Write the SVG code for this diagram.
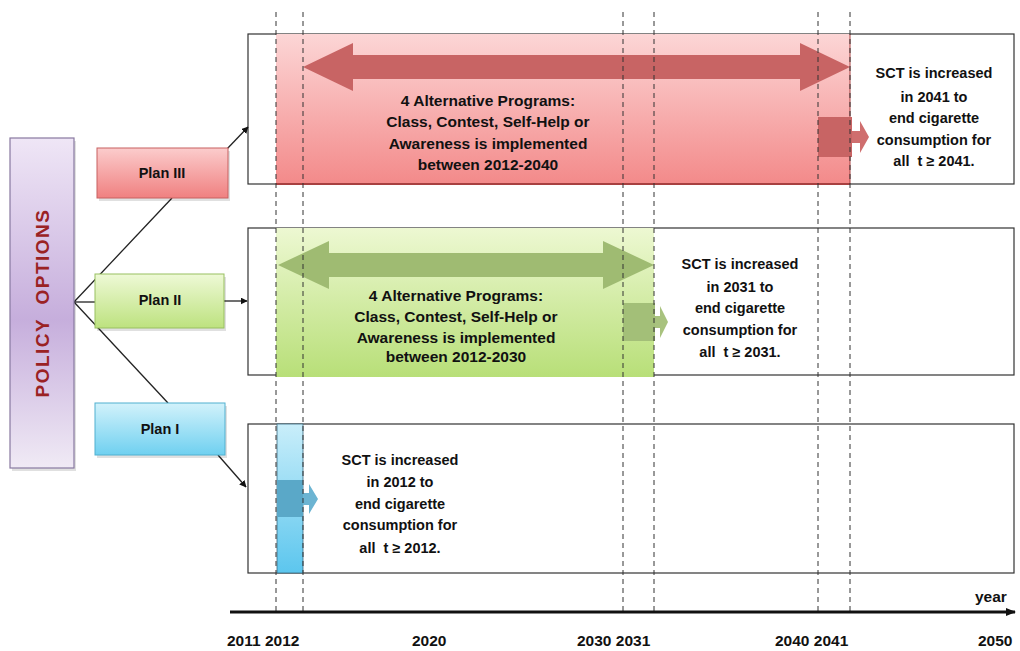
<svg xmlns="http://www.w3.org/2000/svg" width="1020" height="651" viewBox="0 0 1020 651">
<defs>
<linearGradient id="gPol" x1="0" y1="0" x2="0" y2="1"><stop offset="0" stop-color="#efe6f6"/><stop offset="0.55" stop-color="#c6aedc"/><stop offset="1" stop-color="#f0eaf5"/></linearGradient>
<linearGradient id="gRed" x1="0" y1="0" x2="0" y2="1"><stop offset="0" stop-color="#fbcccc"/><stop offset="1" stop-color="#f08080"/></linearGradient>
<linearGradient id="gRedFill" x1="0" y1="0" x2="0" y2="1"><stop offset="0" stop-color="#fcd6d6"/><stop offset="1" stop-color="#f38a8a"/></linearGradient>
<linearGradient id="gGreen" x1="0" y1="0" x2="0" y2="1"><stop offset="0" stop-color="#eef9d6"/><stop offset="1" stop-color="#bde27f"/></linearGradient>
<linearGradient id="gGreenFill" x1="0" y1="0" x2="0" y2="1"><stop offset="0" stop-color="#edf8d2"/><stop offset="1" stop-color="#b8df78"/></linearGradient>
<linearGradient id="gBlue" x1="0" y1="0" x2="0" y2="1"><stop offset="0" stop-color="#d2f2fb"/><stop offset="1" stop-color="#6fd0f0"/></linearGradient>
<linearGradient id="gBlueFill" x1="0" y1="0" x2="0" y2="1"><stop offset="0" stop-color="#c9eefa"/><stop offset="1" stop-color="#5cc6ee"/></linearGradient>
<marker id="arr" viewBox="0 0 10 10" refX="9" refY="5" markerWidth="7" markerHeight="7" orient="auto" markerUnits="userSpaceOnUse"><path d="M0,0 L10,5 L0,10 Z" fill="#111"/></marker>
<marker id="axarr" viewBox="0 0 10 10" refX="9" refY="5" markerWidth="10" markerHeight="10" orient="auto" markerUnits="userSpaceOnUse"><path d="M0,1 L10,5 L0,9 Z" fill="#111"/></marker>
</defs>
<style>
.box{fill:#fff;stroke:#333;stroke-width:1.2}
.dash{stroke:#333;stroke-width:1;stroke-dasharray:5,4;fill:none}
.t{font-family:"Liberation Sans",Arial,sans-serif;font-weight:bold;fill:#111;text-anchor:middle}
.p{font-size:15.5px}
.s{font-size:14.5px}
.plan{font-size:14.5px}
.yr{font-family:"Liberation Sans",Arial,sans-serif;font-weight:bold;font-size:15.5px;fill:#111}
.line{stroke:#222;stroke-width:1.3;fill:none}
.shadow{fill:#000;opacity:0.12}
</style>
<rect width="1020" height="651" fill="#fff"/>

<g id="timeline-boxes">
<rect class="box" x="248" y="34" width="766" height="150"/>
<rect class="box" x="248" y="228" width="766" height="147"/>
<rect class="box" x="248" y="424" width="766" height="149"/>
</g>

<g id="plan3-period">
<rect x="276" y="34" width="574" height="150" fill="url(#gRedFill)"/>
<line x1="276" y1="184" x2="850" y2="184" stroke="#a84040" stroke-width="2"/>
<line x1="850" y1="34" x2="850" y2="184" stroke="#a84040" stroke-width="1"/>
<path d="M303,67 L353,43 L353,55 L800,55 L800,43 L850,67 L800,91 L800,79 L353,79 L353,91 Z" fill="#c86464"/>
<rect x="818" y="117" width="34" height="40" fill="#c86464"/>
<path d="M852,131 L860,131 L860,121 L869,137 L860,153 L860,143 L852,143 Z" fill="#cf6e6e"/>
<text class="t p" x="488" y="106">4 Alternative Programs:</text>
<text class="t p" x="488" y="127">Class, Contest, Self-Help or</text>
<text class="t p" x="488" y="149">Awareness is implemented</text>
<text class="t p" x="488" y="170">between 2012-2040</text>
<text class="t s" x="934" y="78">SCT is increased</text>
<text class="t s" x="934" y="102">in 2041 to</text>
<text class="t s" x="934" y="123">end cigarette</text>
<text class="t s" x="934" y="145">consumption for</text>
<text class="t s" x="934" y="166" xml:space="preserve">all  t ≥ 2041.</text>
</g>

<g id="plan2-period">
<rect x="276" y="228" width="378" height="149" fill="url(#gGreenFill)"/>
<path d="M278,265 L329,241 L329,253 L603,253 L603,241 L654,265 L603,289 L603,277 L329,277 L329,289 Z" fill="#9fbb72"/>
<rect x="623" y="303" width="32" height="38" fill="#a3bf78"/>
<path d="M655,316 L660,316 L660,306 L668,322 L660,338 L660,328 L655,328 Z" fill="#a8c27e"/>
<text class="t p" x="456" y="301">4 Alternative Programs:</text>
<text class="t p" x="456" y="322">Class, Contest, Self-Help or</text>
<text class="t p" x="456" y="343">Awareness is implemented</text>
<text class="t p" x="456" y="362">between 2012-2030</text>
<text class="t s" x="740" y="269">SCT is increased</text>
<text class="t s" x="740" y="292">in 2031 to</text>
<text class="t s" x="740" y="313">end cigarette</text>
<text class="t s" x="740" y="335">consumption for</text>
<text class="t s" x="740" y="357" xml:space="preserve">all  t ≥ 2031.</text>
</g>

<g id="plan1-period">
<rect x="277" y="424" width="26" height="149" fill="url(#gBlueFill)" stroke="#3a6a80" stroke-width="0.8"/>
<rect x="277" y="480" width="26" height="37" fill="#5aa8c8"/>
<path d="M303,493 L309,493 L309,484 L318,499 L309,514 L309,505 L303,505 Z" fill="#6cb4d2"/>
<text class="t s" x="400" y="465">SCT is increased</text>
<text class="t s" x="400" y="487">in 2012 to</text>
<text class="t s" x="400" y="509">end cigarette</text>
<text class="t s" x="400" y="530">consumption for</text>
<text class="t s" x="400" y="553" xml:space="preserve">all  t ≥ 2012.</text>
</g>

<g id="gridlines">
<line class="dash" x1="276" y1="12" x2="276" y2="612"/>
<line class="dash" x1="303" y1="12" x2="303" y2="612"/>
<line class="dash" x1="623" y1="12" x2="623" y2="612"/>
<line class="dash" x1="654" y1="12" x2="654" y2="612"/>
<line class="dash" x1="818" y1="12" x2="818" y2="612"/>
<line class="dash" x1="850" y1="12" x2="850" y2="612"/>
</g>

<g id="connectors">
<line class="line" x1="74" y1="302" x2="172" y2="198"/>
<line class="line" x1="74" y1="302" x2="95" y2="302"/>
<line class="line" x1="74" y1="302" x2="168" y2="403"/>
<line class="line" x1="226" y1="150" x2="248" y2="127" marker-end="url(#arr)"/>
<line class="line" x1="224" y1="301" x2="247" y2="301" marker-end="url(#arr)"/>
<line class="line" x1="218" y1="455" x2="246" y2="487" marker-end="url(#arr)"/>
</g>

<g id="policy-options">
<rect class="shadow" x="12" y="141" width="64" height="330"/>
<rect x="10" y="138" width="64" height="330" fill="url(#gPol)" stroke="#8878a0" stroke-width="1.2"/>
<text class="t" x="0" y="0" transform="translate(49,303) rotate(-90)" style="font-size:19px;fill:#9a2224;letter-spacing:1.5px" xml:space="preserve">POLICY  OPTIONS</text>
</g>

<g id="plan3">
<rect class="shadow" x="99" y="151" width="131" height="50"/>
<rect x="97" y="148" width="131" height="50" fill="url(#gRed)" stroke="#c86060" stroke-width="1"/>
<text class="t plan" x="162" y="178">Plan III</text>
</g>
<g id="plan2">
<rect class="shadow" x="97" y="277" width="129" height="54"/>
<rect x="95" y="274" width="129" height="54" fill="url(#gGreen)" stroke="#98c060" stroke-width="1"/>
<text class="t plan" x="160" y="305">Plan II</text>
</g>
<g id="plan1">
<rect class="shadow" x="97" y="406" width="130" height="52"/>
<rect x="95" y="403" width="130" height="52" fill="url(#gBlue)" stroke="#50b0d0" stroke-width="1"/>
<text class="t plan" x="160" y="434">Plan I</text>
</g>

<g id="axis">
<line x1="230" y1="612" x2="1015" y2="612" stroke="#111" stroke-width="3" marker-end="url(#axarr)"/>
<text class="yr" x="975" y="602">year</text>
<text class="yr" x="227" y="646">2011 2012</text>
<text class="yr" x="412" y="646">2020</text>
<text class="yr" x="577" y="646">2030 2031</text>
<text class="yr" x="775" y="646">2040 2041</text>
<text class="yr" x="978" y="646">2050</text>
</g>
</svg>
